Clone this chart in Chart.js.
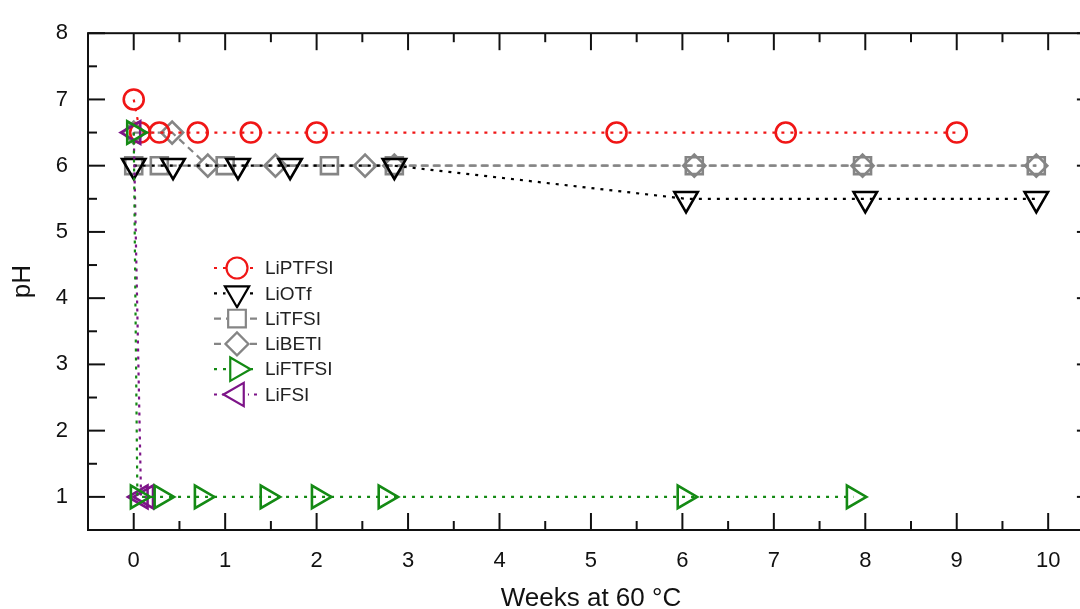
<!DOCTYPE html>
<html>
<head>
<meta charset="utf-8">
<script src="https://cdn.jsdelivr.net/npm/chart.js@4.4.0/dist/chart.umd.min.js"></script>
<style>
    html, body { margin: 0; padding: 0; background: #fff; overflow: hidden; }
    #wrap { width: 1080px; height: 609px; overflow: hidden; }
</style>
</head>
<body>
<div id="wrap"><canvas id="phChart" width="1110" height="609"></canvas></div>
<script>
// values (weeks at 60 °C vs pH)
const seriesNames = ['LiPTFSI', 'LiOTf', 'LiTFSI', 'LiBETI', 'LiFTFSI', 'LiFSI']

const ptfsiWeeks = [0, 0.07, 0.28, 0.70, 1.28, 2.00, 5.28, 7.13, 9.00]
const ptfsiPH    = [7, 6.5, 6.5, 6.5, 6.5, 6.5, 6.5, 6.5, 6.5]

const otfWeeks = [0, 0.43, 1.14, 1.71, 2.85, 6.04, 8.00, 9.87]
const otfPH    = [6, 6, 6, 6, 6, 5.5, 5.5, 5.5]

const tfsiWeeks = [0, 0.28, 1.00, 2.14, 2.85, 6.13, 7.97, 9.87]
const tfsiPH    = [6, 6, 6, 6, 6, 6, 6, 6]

const betiWeeks = [0, 0.42, 0.81, 1.55, 2.53, 2.85, 6.13, 7.97, 9.87]
const betiPH    = [6.5, 6.5, 6, 6, 6, 6, 6, 6, 6]

const ftfsiWeeks = [0, 0.04, 0.30, 0.74, 1.46, 2.02, 2.75, 6.02, 7.87]
const ftfsiPH    = [6.5, 1, 1, 1, 1, 1, 1, 1, 1]

const fsiWeeks = [0, 0.08, 0.14]
const fsiPH    = [6.5, 1, 1]

const xTickVals = [0, 1, 2, 3, 4, 5, 6, 7, 8, 9, 10]
const yTickVals = [1, 2, 3, 4, 5, 6, 7, 8]

const toPoints = (xs, ys) => xs.map((v, i) => ({ x: v, y: ys[i] }))

const makeSet = (idx, xs, ys, color, style, rot, r, dash) => ({
    label: seriesNames[idx],
    data: toPoints(xs, ys),
    showLine: true,
    borderColor: color,
    borderWidth: 2.2,
    borderDash: dash,
    pointStyle: style,
    rotation: rot,
    radius: r,
    pointRadius: r,
    pointHoverRadius: r,
    pointBorderColor: color,
    pointBackgroundColor: 'rgba(0,0,0,0)',
    pointBorderWidth: 2.6,
    backgroundColor: 'rgba(0,0,0,0)',
    fill: false
})

const datasets = [
    makeSet(4, ftfsiWeeks, ftfsiPH, '#148a14', 'triangle', 90, 13, [3, 6]),
    makeSet(5, fsiWeeks, fsiPH, '#7d1488', 'triangle', 270, 13, [3, 5]),
    makeSet(0, ptfsiWeeks, ptfsiPH, '#f01616', 'circle', 0, 10, [3, 6]),
    makeSet(1, otfWeeks, otfPH, '#000000', 'triangle', 180, 13.5, [3, 6]),
    makeSet(2, tfsiWeeks, tfsiPH, '#858585', 'rect', 0, 12, [7, 5]),
    makeSet(3, betiWeeks, betiPH, '#858585', 'rectRot', 0, 11, [7, 5])
]

const frameAndTicks = {
    id: 'frameAndTicks',
    afterDatasetsDraw(chart) {
        const { ctx, chartArea: { left, right, top, bottom }, scales: { x, y } } = chart
        ctx.save()
        ctx.strokeStyle = '#111'
        ctx.lineWidth = 2
        ctx.setLineDash([])
        const seg = (x1, y1, x2, y2) => {
            ctx.beginPath(); ctx.moveTo(x1, y1); ctx.lineTo(x2, y2); ctx.stroke()
        }
        xTickVals.forEach(v => {
            const px = x.getPixelForValue(v)
            seg(px, bottom, px, bottom - 17)
            seg(px, top, px, top + 17)
            if (v < 10) {
                const pm = x.getPixelForValue(v + 0.5)
                seg(pm, bottom, pm, bottom - 9)
                seg(pm, top, pm, top + 9)
            }
        })
        yTickVals.forEach(v => {
            const py = y.getPixelForValue(v)
            seg(left, py, left + 17, py)
            seg(right, py, right - 17, py)
            if (v < 8) {
                const pm = y.getPixelForValue(v + 0.5)
                seg(left, pm, left + 9, pm)
                seg(right, pm, right - 9, pm)
            }
        })
        ctx.strokeRect(left, top, right - left, bottom - top)
        ctx.restore()
    }
}

const insideLegend = {
    id: 'insideLegend',
    afterDraw(chart) {
        const ctx = chart.ctx
        const order = [2, 3, 4, 5, 0, 1]
        ctx.save()
        ctx.font = "19px 'Liberation Sans', Arial, sans-serif"
        ctx.textBaseline = 'middle'
        order.forEach((di, row) => {
            const ds = chart.data.datasets[di]
            const yy = 268 + row * 25.3
            ctx.strokeStyle = ds.borderColor
            ctx.lineWidth = 2.2
            ctx.setLineDash(ds.borderDash)
            ctx.beginPath(); ctx.moveTo(214, yy); ctx.lineTo(258, yy); ctx.stroke()
            ctx.setLineDash([])
            ctx.fillStyle = '#fff'
            ctx.beginPath(); ctx.arc(237, yy, ds.pointRadius - 2, 0, Math.PI * 2); ctx.fill()
            Chart.helpers.drawPoint(ctx, {
                pointStyle: ds.pointStyle,
                rotation: ds.rotation,
                radius: ds.pointRadius + 0.5,
                borderWidth: 2.6
            }, 237, yy)
            ctx.fillStyle = '#222'
            ctx.fillText(ds.label, 265, yy + 1)
        })
        ctx.restore()
    }
}

const tickFont = { size: 22, family: "'Liberation Sans', Arial, sans-serif" }
const titleFont = { size: 26, lineHeight: 1, family: "'Liberation Sans', Arial, sans-serif" }

new Chart(document.getElementById('phChart'), {
    type: 'scatter',
    data: { datasets: datasets },
    options: {
        responsive: false,
        animation: false,
        layout: { padding: { top: 27, right: 7, left: 0, bottom: 0 } },
        plugins: {
            legend: { display: false },
            tooltip: { enabled: false }
        },
        elements: { line: { tension: 0 } },
        scales: {
            x: {
                type: 'linear',
                min: -0.5,
                max: 10.5,
                afterBuildTicks: s => { s.ticks = xTickVals.map(v => ({ value: v })) },
                afterFit: s => { s.height = 79 },
                grid: { display: false, drawTicks: false },
                border: { display: false },
                ticks: { color: '#111', font: tickFont, padding: 18 },
                title: {
                    display: true,
                    text: 'Weeks at 60 °C',
                    color: '#111',
                    font: titleFont,
                    padding: { top: 0, bottom: -3 }
                }
            },
            y: {
                type: 'linear',
                min: 0.5,
                max: 8,
                afterBuildTicks: s => { s.ticks = yTickVals.map(v => ({ value: v })) },
                afterFit: s => { s.width = 88 },
                grid: { display: false, drawTicks: false },
                border: { display: false },
                ticks: { color: '#111', font: tickFont, padding: 20 },
                title: {
                    display: true,
                    text: 'pH',
                    color: '#111',
                    font: titleFont,
                    padding: { top: 10, bottom: 0 }
                }
            }
        }
    },
    plugins: [frameAndTicks, insideLegend]
})
</script>
</body>
</html>
